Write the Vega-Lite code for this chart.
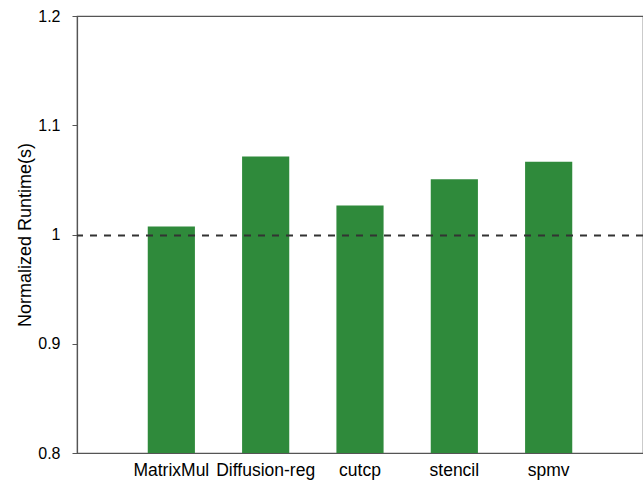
{
  "$schema": "https://vega.github.io/schema/vega-lite/v6.json",
  "width": 566,
  "height": 437,
  "autosize": {"type": "none"},
  "padding": {"left": 77, "top": 16, "right": 0, "bottom": 29},
  "background": "white",
  "title": {"text": "(a)", "font": "Liberation Sans", "fontSize": 18, "fontWeight": "normal", "color": "#000", "offset": 0, "dy": 10, "baseline": "bottom", "anchor": "middle"},
  "config": {
    "view": {"stroke": "#555", "strokeWidth": 1.2},
    "font": "Liberation Sans"
  },
  "data": {"values": [
    {"benchmark": "MatrixMul", "runtime": 1.0073},
    {"benchmark": "Diffusion-reg", "runtime": 1.0714},
    {"benchmark": "cutcp", "runtime": 1.0265},
    {"benchmark": "stencil", "runtime": 1.0505},
    {"benchmark": "spmv", "runtime": 1.0665}
  ]},
  "layer": [
    {
      "mark": {"type": "bar", "color": "#2f8a3b"},
      "encoding": {
        "x": {"field": "benchmark", "type": "nominal", "sort": null,
          "scale": {"paddingInner": 0.5, "paddingOuter": 0.75},
          "axis": {"title": null, "labelAngle": 0, "ticks": false, "labelPadding": 8, "labelFontSize": 17.5, "labelColor": "#000", "domainColor": "#555", "domainWidth": 1.2, "labelFont": "Liberation Sans"}},
        "y": {"field": "runtime", "type": "quantitative",
          "scale": {"domain": [0.8, 1.2], "zero": false, "clamp": true},
          "axis": {"title": "Normalized Runtime(s)", "values": [0.8, 0.9, 1, 1.1, 1.2], "format": "~g", "grid": false, "tickSize": 5, "tickColor": "#555", "domainColor": "#555", "domainWidth": 1.2, "labelPadding": 12, "labelFontSize": 16, "labelColor": "#000", "titleFontSize": 18, "titleFontWeight": "normal", "titleColor": "#000", "titlePadding": 3, "labelFont": "Liberation Sans", "titleFont": "Liberation Sans"}}
      }
    },
    {
      "data": {"values": [{"ref": 0.999}]},
      "mark": {"type": "rule", "strokeDash": [7, 7], "strokeWidth": 2, "color": "#333"},
      "encoding": {"y": {"field": "ref", "type": "quantitative"}}
    }
  ]
}
